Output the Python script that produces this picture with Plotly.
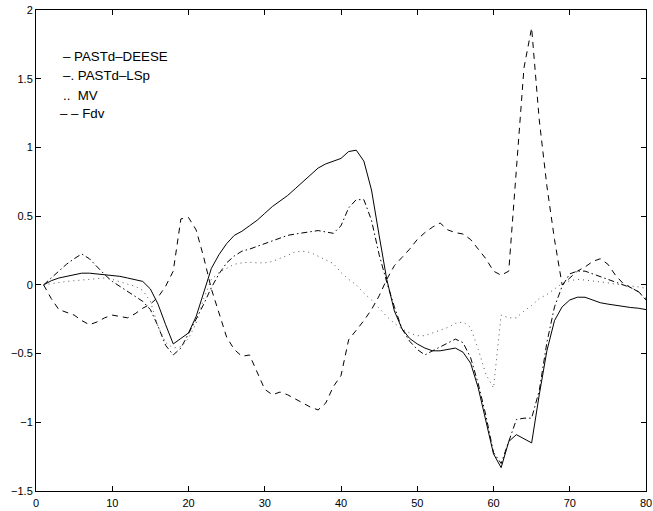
import plotly.graph_objects as go

x_vals = list(range(1, 81))

pastd_deese = [0, 0.03, 0.05, 0.06, 0.07, 0.085, 0.085, 0.08, 0.075, 0.07,
               0.062, 0.05, 0.04, 0.025, -0.03, -0.14, -0.29, -0.43, -0.39, -0.35,
               -0.23, -0.05, 0.12, 0.22, 0.30, 0.36, 0.39, 0.43, 0.47, 0.52,
               0.57, 0.61, 0.65, 0.70, 0.75, 0.80, 0.85, 0.88, 0.90, 0.92,
               0.97, 0.98, 0.90, 0.69, 0.36, 0.04, -0.19, -0.32, -0.39, -0.43,
               -0.46, -0.48, -0.48, -0.47, -0.46, -0.49, -0.57, -0.75, -1.00, -1.23,
               -1.33, -1.14, -1.09, -1.12, -1.15, -0.80, -0.48, -0.26, -0.16, -0.11,
               -0.09, -0.09, -0.11, -0.13, -0.14, -0.15, -0.16, -0.165, -0.17, -0.18]

pastd_lsp = [0, 0.05, 0.10, 0.15, 0.19, 0.225, 0.19, 0.13, 0.075, 0.025,
             -0.01, -0.05, -0.085, -0.12, -0.18, -0.30, -0.44, -0.51, -0.46, -0.36,
             -0.25, -0.14, -0.02, 0.08, 0.16, 0.21, 0.245, 0.26, 0.28, 0.305,
             0.325, 0.345, 0.36, 0.37, 0.38, 0.39, 0.395, 0.385, 0.375, 0.43,
             0.56, 0.62, 0.62, 0.47, 0.22, 0.02, -0.16, -0.32, -0.41, -0.47,
             -0.51, -0.48, -0.45, -0.42, -0.395, -0.42, -0.53, -0.72, -0.95, -1.22,
             -1.30, -1.14, -0.98, -0.97, -0.97, -0.77, -0.42, -0.16, -0.01, 0.08,
             0.10, 0.10, 0.08, 0.06, 0.04, 0.02, 0.0, -0.02, -0.05, -0.11]

mv = [0, 0.01, 0.02, 0.025, 0.03, 0.035, 0.04, 0.045, 0.05, 0.04,
      0.02, 0.005, -0.01, -0.04, -0.12, -0.30, -0.42, -0.46, -0.45, -0.39,
      -0.28, -0.10, 0.04, 0.09, 0.12, 0.15, 0.16, 0.165, 0.16, 0.16,
      0.17, 0.19, 0.215, 0.24, 0.245, 0.235, 0.21, 0.18, 0.155, 0.09,
      0.04, 0.0, -0.06, -0.11, -0.17, -0.23, -0.28, -0.32, -0.35, -0.37,
      -0.37, -0.35, -0.33, -0.31, -0.28, -0.27, -0.31, -0.47, -0.65, -0.75,
      -0.22, -0.24, -0.24, -0.19, -0.15, -0.10, -0.07, -0.03, 0.01, 0.03,
      0.04, 0.035, 0.03, 0.025, 0.015, 0.005, 0.0, -0.005, -0.015, -0.025]

fdv = [0, -0.10, -0.18, -0.20, -0.22, -0.26, -0.29, -0.27, -0.24, -0.22,
       -0.23, -0.24, -0.21, -0.17, -0.14, -0.09, -0.01, 0.10, 0.48, 0.49,
       0.40, 0.20, -0.03, -0.20, -0.38, -0.47, -0.52, -0.51, -0.63, -0.76,
       -0.80, -0.78, -0.80, -0.83, -0.86, -0.89, -0.91, -0.86, -0.74, -0.66,
       -0.40, -0.33, -0.26, -0.18, -0.08, 0.04, 0.14, 0.20, 0.26, 0.33,
       0.38, 0.42, 0.45, 0.40, 0.38, 0.37, 0.33, 0.26, 0.19, 0.10,
       0.07, 0.10, 0.85, 1.58, 1.87, 1.20, 0.72, 0.33, 0.0, 0.05,
       0.10, 0.13, 0.17, 0.19, 0.15, 0.07, 0.01, -0.02, -0.05, -0.10]

legend_labels = ["\u2013 PASTd\u2013DEESE", "\u2013. PASTd\u2013LSp", "..  MV", "\u2013 \u2013 Fdv"]

x_ticks = [0, 10, 20, 30, 40, 50, 60, 70, 80]
y_ticks = [-1.5, -1, -0.5, 0, 0.5, 1, 1.5, 2]
y_tick_text = ["\u22121.5", "\u22121", "\u22120.5", "0", "0.5", "1", "1.5", "2"]

fig = go.Figure()
series = [(pastd_deese, "solid", "black"),
          (pastd_lsp, "6px,3px,1.5px,3px", "black"),
          (mv, "1px,4px", "#555555"),
          (fdv, "6px,5px", "black")]
for ys, dash, col in series:
    fig.add_trace(go.Scatter(x=x_vals, y=ys, mode="lines",
                             line=dict(color=col, width=1, dash=dash),
                             showlegend=False, hoverinfo="skip"))

leg_y = [1.66, 1.52, 1.38, 1.245]
leg_x = [3.3, 3.3, 3.3, 2.95]
for t, lx, ly in zip(legend_labels, leg_x, leg_y):
    fig.add_annotation(x=lx, y=ly, text=t, showarrow=False, xanchor="left",
                       yanchor="middle", xref="x", yref="y",
                       font=dict(family="Liberation Sans, Arial, sans-serif", size=13.3, color="black"))

axis_common = dict(showgrid=False, zeroline=False, showline=True, linecolor="black",
                   linewidth=1, mirror="ticks", ticks="inside", ticklen=5,
                   tickcolor="black", tickwidth=1, automargin=False,
                   tickfont=dict(family="Liberation Sans, Arial, sans-serif", size=11, color="black"))

fig.update_xaxes(range=[0, 80], tickvals=x_ticks, ticktext=[str(v) for v in x_ticks],
                 ticklabelstandoff=2, **axis_common)
fig.update_yaxes(range=[-1.5, 2], tickvals=y_ticks, ticktext=y_tick_text, **axis_common)

fig.update_layout(width=653, height=511, plot_bgcolor="white", paper_bgcolor="white",
                  margin=dict(l=36, r=7, t=10, b=20))

fig.write_html("out.html", config={"displayModeBar": False},
               post_script="document.body.style.margin='0';document.body.style.overflow='hidden';")
